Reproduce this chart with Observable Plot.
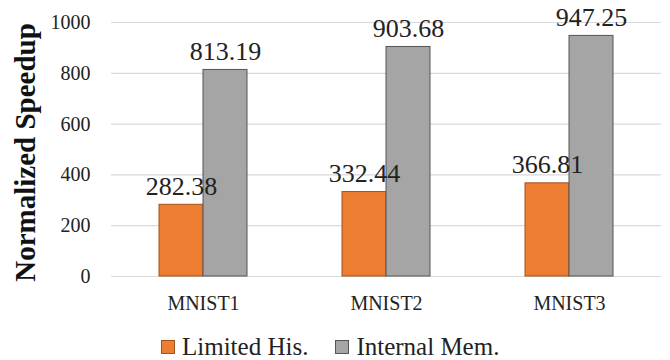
<!DOCTYPE html>
<html>
<head>
<meta charset="utf-8">
<script src="https://cdn.jsdelivr.net/npm/d3@7"></script>
<script src="https://cdn.jsdelivr.net/npm/@observablehq/plot@0.6"></script>
<style>
  html, body { margin: 0; padding: 0; background: #fff; }
  #chart { width: 670px; font-family: "Liberation Serif", serif; }
  .legend {
    display: flex; align-items: center; height: 35px; margin-top: 4px;
    padding-left: 161px; font-size: 25px; color: #222;
    font-family: "Liberation Serif", serif;
  }
  .legend .item { display: flex; align-items: center; margin-right: 27px; }
  .legend .swatch { width: 12px; height: 12px; margin-right: 7px; border: 1px solid; }
</style>
</head>
<body>
<div id="chart"></div>
<script>
// Datasets and the two measured configurations
const groups = ["MNIST1", "MNIST2", "MNIST3"];
const seriesNames = ["Limited His.", "Internal Mem."];
const limitedHis = [282.38, 332.44, 366.81];
const internalMem = [813.19, 903.68, 947.25];
const yTicks = [0, 200, 400, 600, 800, 1000];

const fills = ["#ED7D31", "#A5A5A5"];
const strokes = ["#A0521C", "#555555"];

const rows = groups.flatMap((g, i) => [
  {group: g, series: seriesNames[0], value: limitedHis[i]},
  {group: g, series: seriesNames[1], value: internalMem[i]}
]);
const first = rows.filter(d => d.series === seriesNames[0]);
const second = rows.filter(d => d.series === seriesNames[1]);

const chart = Plot.plot({
  width: 670,
  height: 325,
  marginLeft: 111,
  marginRight: 9,
  marginTop: 22,
  marginBottom: 49,
  style: {fontFamily: "Liberation Serif, serif", fontSize: "20px", color: "#222"},
  x: {domain: groups, paddingInner: 0.52, paddingOuter: 0.26, label: null, tickSize: 0, tickPadding: 19},
  y: {domain: [0, 1000], ticks: yTicks, tickFormat: d => String(d), label: null, tickSize: 0, tickPadding: 21},
  marks: [
    Plot.ruleY(yTicks, {stroke: "#d9d9d9", strokeWidth: 1.2}),
    Plot.barY(first, {x: "group", y: "value", fill: fills[0], stroke: strokes[0], strokeWidth: 1, insetRight: 44}),
    Plot.barY(second, {x: "group", y: "value", fill: fills[1], stroke: strokes[1], strokeWidth: 1, insetLeft: 44}),
    Plot.text(first, {x: "group", y: "value", text: d => d.value.toFixed(2), dx: -22, dy: -10, lineAnchor: "bottom", fontSize: 26, fill: "#222"}),
    Plot.text(second, {x: "group", y: "value", text: d => d.value.toFixed(2), dx: 22, dy: -10, lineAnchor: "bottom", fontSize: 26, fill: "#222"}),
    Plot.text(["Normalized Speedup"], {frameAnchor: "left", textAnchor: "middle", rotate: -90, dx: -86, dy: 3, fontSize: 29, fontWeight: "bold", fill: "#111"})
  ]
});
document.getElementById("chart").appendChild(chart);

const legend = document.createElement("div");
legend.className = "legend";
seriesNames.forEach((name, i) => {
  const item = document.createElement("div");
  item.className = "item";
  const sw = document.createElement("span");
  sw.className = "swatch";
  sw.style.background = fills[i];
  sw.style.borderColor = strokes[i];
  const label = document.createElement("span");
  label.textContent = name;
  item.append(sw, label);
  legend.appendChild(item);
});
document.getElementById("chart").appendChild(legend);
</script>
</body>
</html>
